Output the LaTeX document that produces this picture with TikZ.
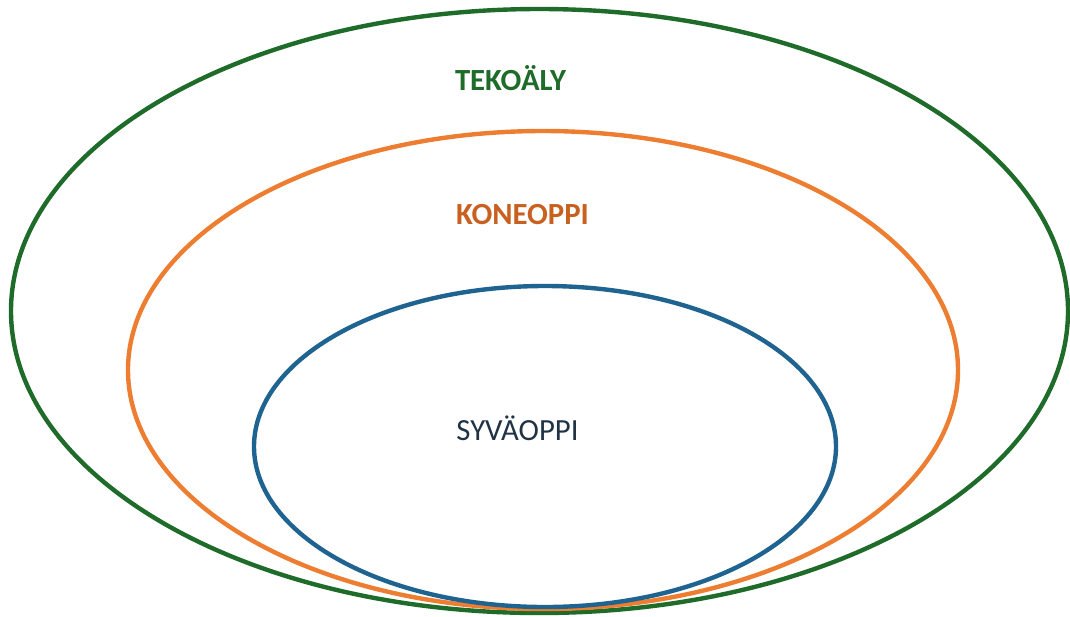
\documentclass[tikz,border=0pt]{standalone}
\usepackage{fontspec}
\setmainfont{Carlito}
\usepackage{xcolor}
\usetikzlibrary{shapes.geometric,positioning}
\definecolor{aigreen}{HTML}{1E6B2A}
\definecolor{mlorange}{HTML}{ED7D31}
\definecolor{mltext}{HTML}{C8601F}
\definecolor{dlblue}{HTML}{1F6391}
\definecolor{dltext}{HTML}{1F3344}

\begin{document}
\begin{tikzpicture}[ring/.style={ellipse,draw,line width=2.5pt,inner sep=0pt},
	field/.style={font=\fontsize{17.5}{21}\selectfont}]
			\useasboundingbox (0,0) rectangle (21.4,-12.32);
			\node[ring,aigreen,minimum width=21.14cm,minimum height=12.08cm] (ai) at (10.79,-6.22) {};
			\node[ring,mlorange,minimum width=16.60cm,minimum height=9.56cm] (ml) at (10.86,-7.40) {};
			\node[ring,dlblue,minimum width=11.64cm,minimum height=6.42cm] (dl) at (10.90,-8.93) {};
	
			\node[field,aigreen] (ailabel) at (10.21,-1.56) {\bfseries TEKOÄLY};
			\node[field,mltext] (mllabel) at (10.45,-4.30) {\bfseries KONEOPPI};
			\node[field,dltext] (dllabel) at (10.35,-8.56) {SYVÄOPPI};
			\end{tikzpicture}
\end{document}
